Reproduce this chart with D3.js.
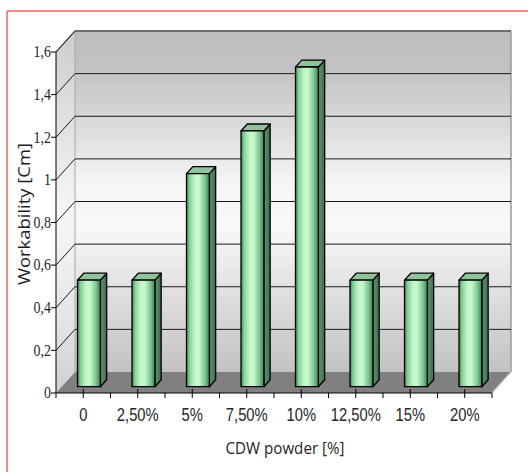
<!DOCTYPE html>
<html>
<head>
<meta charset="utf-8">
<script src="https://cdn.jsdelivr.net/npm/d3@7"></script>
<style>
  html, body { margin: 0; padding: 0; background: #fff; }
  svg { display: block; }
  .x-label { font-family: "Liberation Sans", Arial, sans-serif; fill: #262626; }
  .y-label { font-family: "Liberation Serif", "Times New Roman", serif; fill: #262626; }
  .axis-title { font-family: "Open Sans", "Noto Sans", sans-serif; fill: #1e1e1e; }
</style>
</head>
<body>
<svg id="chart" width="528" height="472"></svg>
<script>
// Workability of mixes by CDW powder content
const categories = ["0", "2,50%", "5%", "7,50%", "10%", "12,50%", "15%", "20%"];
const workability = [0.5, 0.5, 1.0, 1.2, 1.5, 0.5, 0.5, 0.5];
const yTicks = [0, 0.2, 0.4, 0.6, 0.8, 1.0, 1.2, 1.4, 1.6];
const yTitle = "Workability [Cm]";
const xTitle = "CDW powder [%]";

const W = 528, H = 472;
const svg = d3.select("#chart");

// pseudo-3D geometry: front plane and the shift to the back plane
const front = { left: 56, right: 492, bottom: 393, top: 52 };
const DX = 19, DY = 21;

const x = d3.scaleBand().domain(categories).range([front.left, front.right]);
const y = d3.scaleLinear().domain([0, 1.6]).range([front.bottom, front.top]);
const fmt = v => String(v).replace(".", ",");

// project a front-plane point to depth d (0 = front, 1 = back)
const P = (px, py, d) => [px + d * DX, py - d * DY];
const poly = pts => pts.map(p => p.join(",")).join(" ");

const defs = svg.append("defs");

const wallGrad = defs.append("linearGradient")
  .attr("id", "wallGrad").attr("x1", 0).attr("y1", 0).attr("x2", 0).attr("y2", 1);
[[0, "#bdbdbd"], [0.12, "#c3c3c3"], [0.3, "#dedede"], [0.45, "#f6f6f6"],
 [0.58, "#f8f8f8"], [0.78, "#dedede"], [1, "#c2c2c2"]]
  .forEach(([o, c]) => wallGrad.append("stop").attr("offset", o).attr("stop-color", c));

const sideGrad = defs.append("linearGradient")
  .attr("id", "sideGrad").attr("x1", 0).attr("y1", 0).attr("x2", 0).attr("y2", 1);
[[0, "#cdcdcd"], [0.3, "#e4e4e4"], [0.5, "#f7f7f7"], [0.78, "#e6e6e6"], [1, "#cfcfcf"]]
  .forEach(([o, c]) => sideGrad.append("stop").attr("offset", o).attr("stop-color", c));

const faceGrad = defs.append("linearGradient")
  .attr("id", "faceGrad").attr("x1", 0).attr("y1", 0).attr("x2", 1).attr("y2", 0);
[[0, "#3c8a57"], [0.14, "#86d39b"], [0.38, "#c4f7c9"], [0.55, "#c6f8ca"],
 [0.8, "#7dc893"], [1, "#3e8152"]]
  .forEach(([o, c]) => faceGrad.append("stop").attr("offset", o).attr("stop-color", c));

const sideBarGrad = defs.append("linearGradient")
  .attr("id", "sideBarGrad").attr("x1", 0).attr("y1", 0).attr("x2", 1).attr("y2", 0);
[[0, "#5f9670"], [1, "#3f6b4c"]]
  .forEach(([o, c]) => sideBarGrad.append("stop").attr("offset", o).attr("stop-color", c));

// outer frame (top and left edges)
svg.append("line").attr("x1", 7).attr("y1", 11).attr("x2", W).attr("y2", 11)
  .attr("stroke", "#f08a8a").attr("stroke-width", 2);
svg.append("line").attr("x1", 7).attr("y1", 11).attr("x2", 7).attr("y2", H)
  .attr("stroke", "#f08a8a").attr("stroke-width", 2);

const y0 = y(0), yTop = y(1.6);

// back wall
svg.append("polygon")
  .attr("points", poly([P(front.left, yTop, 1), P(front.right, yTop, 1), P(front.right, y0, 1), P(front.left, y0, 1)]))
  .attr("fill", "url(#wallGrad)");

// left side wall
svg.append("polygon")
  .attr("points", poly([P(front.left, yTop, 0), P(front.left, yTop, 1), P(front.left, y0, 1), P(front.left, y0, 0)]))
  .attr("fill", "url(#sideGrad)");

// floor
svg.append("polygon")
  .attr("points", poly([P(front.left, y0, 0), P(front.right, y0, 0), P(front.right, y0, 1), P(front.left, y0, 1)]))
  .attr("fill", "#808080");

// wall edges
const edges = svg.append("g").attr("fill", "none");
const edge = (a, b, color, w) => edges.append("line")
  .attr("x1", a[0]).attr("y1", a[1]).attr("x2", b[0]).attr("y2", b[1])
  .attr("stroke", color).attr("stroke-width", w);
edge(P(front.left, y0, 1), P(front.left, yTop, 1), "#a8a8a8", 1);
edge(P(front.right, y0, 1), P(front.right, yTop, 1), "#9a9a9a", 1.5);
edge(P(front.right, y0, 0), P(front.right, y0, 1), "#c8c8c8", 1.2);
edge(P(front.left, yTop, 1), P(front.right, yTop, 1), "#6e6e6e", 2);
edge(P(front.left, yTop, 0), P(front.left, yTop, 1), "#8a8a8a", 1.2);

// grid lines on back and side walls
const grid = svg.append("g").attr("stroke", "#1a1a1a").attr("stroke-width", 1).attr("fill", "none");
yTicks.filter(t => t > 0 && t < 1.6).forEach(t => {
  const a = P(front.left, y(t), 1), b = P(front.right, y(t), 1);
  grid.append("line").attr("x1", a[0]).attr("y1", a[1]).attr("x2", b[0]).attr("y2", b[1]);
});
yTicks.filter(t => t > 0).forEach(t => {
  const a = P(front.left, y(t), 0), b = P(front.left, y(t), 1);
  grid.append("line").attr("x1", a[0]).attr("y1", a[1]).attr("x2", b[0]).attr("y2", b[1]);
});

// bars: front face, side face and top face, placed mid-depth on the floor
const barW = x.bandwidth() * 0.42;
const dFront = 0.3, dBack = 0.63;
const bars = svg.append("g").selectAll("g.bar")
  .data(categories.map((c, i) => ({ c, v: workability[i] })))
  .join("g").attr("class", "bar")
  .attr("stroke", "#000").attr("stroke-width", 1.3).attr("stroke-linejoin", "round");

bars.each(function(d) {
  const g = d3.select(this);
  const cx = x(d.c) + x.bandwidth() / 2;
  const xl = cx - barW / 2, xr = cx + barW / 2;
  const yb = y(0), yt = y(d.v);
  // side face
  g.append("polygon")
    .attr("points", poly([P(xr, yt, dFront), P(xr, yt, dBack), P(xr, yb, dBack), P(xr, yb, dFront)]))
    .attr("fill", "url(#sideBarGrad)");
  // top face
  g.append("polygon")
    .attr("points", poly([P(xl, yt, dFront), P(xl, yt, dBack), P(xr, yt, dBack), P(xr, yt, dFront)]))
    .attr("fill", "#8fc49b");
  // front face
  const f0 = P(xl, yt, dFront), f1 = P(xr, yb, dFront);
  g.append("rect")
    .attr("x", f0[0]).attr("y", f0[1])
    .attr("width", f1[0] - f0[0]).attr("height", f1[1] - f0[1])
    .attr("fill", "url(#faceGrad)");
});

// y axis
const yAxis = svg.append("g");
yAxis.append("line").attr("x1", front.left).attr("y1", y0).attr("x2", front.left).attr("y2", yTop)
  .attr("stroke", "#000").attr("stroke-width", 1);
yTicks.forEach(t => {
  yAxis.append("line").attr("x1", front.left - 5).attr("x2", front.left)
    .attr("y1", y(t)).attr("y2", y(t)).attr("stroke", "#000").attr("stroke-width", 1);
  yAxis.append("text").attr("class", "y-label")
    .attr("transform", `translate(${front.left - 5},${y(t)}) scale(0.87,1)`)
    .attr("dy", "0.33em")
    .attr("text-anchor", "end").attr("font-size", 16)
    .text(fmt(t));
});

// x axis
const xAxis = svg.append("g");
xAxis.append("line").attr("x1", front.left).attr("y1", y0).attr("x2", front.right).attr("y2", y0)
  .attr("stroke", "#000").attr("stroke-width", 1);
const bounds = categories.map(c => x(c)).concat([front.right]);
bounds.forEach(bx => {
  xAxis.append("line").attr("x1", bx).attr("x2", bx).attr("y1", y0).attr("y2", y0 + 5)
    .attr("stroke", "#000").attr("stroke-width", 1);
});
categories.forEach(c => {
  const cx = x(c) + x.bandwidth() / 2;
  xAxis.append("line").attr("x1", cx).attr("x2", cx).attr("y1", y0 - 4).attr("y2", y0 + 5)
    .attr("stroke", "#000").attr("stroke-width", 1);
  xAxis.append("text").attr("class", "x-label")
    .attr("transform", `translate(${cx},421) scale(0.82,1)`)
    .attr("text-anchor", "middle").attr("font-size", 18)
    .text(c);
});

// axis titles
svg.append("text").attr("class", "axis-title")
  .attr("x", 285).attr("y", 454).attr("text-anchor", "middle").attr("font-size", 17)
  .attr("textLength", 119).attr("lengthAdjust", "spacingAndGlyphs")
  .text(xTitle);
svg.append("text").attr("class", "axis-title")
  .attr("transform", "translate(30,214) rotate(-90)")
  .attr("text-anchor", "middle").attr("font-size", 17)
  .attr("textLength", 142).attr("lengthAdjust", "spacingAndGlyphs")
  .text(yTitle);
</script>
</body>
</html>
